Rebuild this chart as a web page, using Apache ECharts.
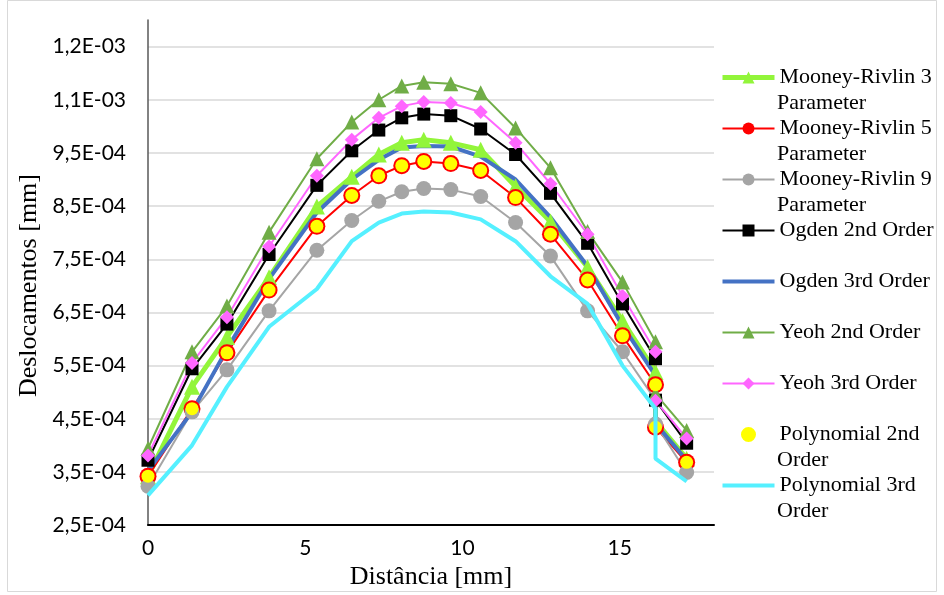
<!DOCTYPE html>
<html><head><meta charset="utf-8">
<script src="https://cdn.jsdelivr.net/npm/echarts@6/dist/echarts.min.js"></script>
<style>html,body{margin:0;padding:0;background:#fff}#c{width:944px;height:595px}</style>
</head><body><div id="c"></div>
<script>
// x positions (mm)
const distance = [0, 1.40, 2.51, 3.85, 5.37, 6.48, 7.34, 8.07, 8.77, 9.63, 10.58, 11.69, 12.80, 13.98, 15.09, 16.14, 16.14, 17.13];
// displacements (mm)
const mooneyRivlin3 = [3.42e-4, 5.10e-4, 6.04e-4, 7.16e-4, 8.49e-4, 9.05e-4, 9.47e-4, 9.69e-4, 9.75e-4, 9.69e-4, 9.56e-4, 8.87e-4, 8.21e-4, 7.35e-4, 6.34e-4, 5.38e-4, 4.45e-4, 3.75e-4];
const mooneyRivlin5 = [3.42e-4, 4.69e-4, 5.74e-4, 6.92e-4, 8.12e-4, 8.70e-4, 9.07e-4, 9.26e-4, 9.34e-4, 9.30e-4, 9.17e-4, 8.66e-4, 7.97e-4, 7.11e-4, 6.06e-4, 5.14e-4, 4.34e-4, 3.68e-4];
const mooneyRivlin9 = [3.23e-4, 4.63e-4, 5.42e-4, 6.53e-4, 7.67e-4, 8.23e-4, 8.59e-4, 8.77e-4, 8.83e-4, 8.81e-4, 8.68e-4, 8.19e-4, 7.56e-4, 6.53e-4, 5.76e-4, 4.85e-4, 4.40e-4, 3.49e-4];
const ogden2 = [3.72e-4, 5.44e-4, 6.28e-4, 7.59e-4, 8.89e-4, 9.54e-4, 9.93e-4, 10.16e-4, 10.23e-4, 10.20e-4, 9.95e-4, 9.47e-4, 8.74e-4, 7.80e-4, 6.66e-4, 5.63e-4, 4.85e-4, 4.04e-4];
const ogden3 = [3.52e-4, 4.63e-4, 5.81e-4, 7.13e-4, 8.38e-4, 9.00e-4, 9.37e-4, 9.60e-4, 9.63e-4, 9.62e-4, 9.43e-4, 9.00e-4, 8.29e-4, 7.37e-4, 6.25e-4, 5.31e-4, 4.41e-4, 3.72e-4];
const yeoh2 = [3.94e-4, 5.76e-4, 6.62e-4, 8.01e-4, 9.39e-4, 10.08e-4, 10.50e-4, 10.76e-4, 10.83e-4, 10.80e-4, 10.63e-4, 9.97e-4, 9.22e-4, 8.02e-4, 7.07e-4, 5.95e-4, 4.97e-4, 4.28e-4];
const yeoh3 = [3.81e-4, 5.55e-4, 6.41e-4, 7.74e-4, 9.07e-4, 9.75e-4, 10.16e-4, 10.38e-4, 10.46e-4, 10.44e-4, 10.27e-4, 9.69e-4, 8.92e-4, 7.97e-4, 6.81e-4, 5.76e-4, 4.84e-4, 4.13e-4];
const polynomial2 = [3.42e-4, 4.69e-4, 5.74e-4, 6.92e-4, 8.12e-4, 8.70e-4, 9.07e-4, 9.26e-4, 9.34e-4, 9.30e-4, 9.17e-4, 8.66e-4, 7.97e-4, 7.11e-4, 6.06e-4, 5.14e-4, 4.34e-4, 3.68e-4];
const polynomial3 = [3.06e-4, 4.00e-4, 5.10e-4, 6.23e-4, 6.94e-4, 7.84e-4, 8.19e-4, 8.36e-4, 8.40e-4, 8.38e-4, 8.25e-4, 7.84e-4, 7.18e-4, 6.66e-4, 5.50e-4, 4.69e-4, 3.75e-4, 3.32e-4];
const yTickLabels = ['2,5E-04','3,5E-04','4,5E-04','5,5E-04','6,5E-04','7,5E-04','8,5E-04','9,5E-04','1,1E-03','1,2E-03'];
const xTickLabels = ['0','5','10','15'];
const seriesNames = ['Mooney-Rivlin 3 Parameter','Mooney-Rivlin 5 Parameter','Mooney-Rivlin 9 Parameter','Ogden 2nd Order','Ogden 3rd Order','Yeoh 2nd Order','Yeoh 3rd Order','Polynomial 2nd Order','Polynomial 3rd Order'];
const legendFirstLine = {'Mooney-Rivlin 3 Parameter':'Mooney-Rivlin 3','Mooney-Rivlin 5 Parameter':'Mooney-Rivlin 5','Mooney-Rivlin 9 Parameter':'Mooney-Rivlin 9','Polynomial 2nd Order':'Polynomial 2nd','Polynomial 3rd Order':'Polynomial 3rd'};
const legendSecondLine = ['Parameter','Parameter','Parameter',null,null,null,null,'Order','Order'];

const pair = arr => distance.map((x, i) => [x, arr[i]]);
const SERIF = 'Liberation Serif';
const chart = echarts.init(document.getElementById('c'), null, {renderer: 'canvas'});

function lineSeries(name, data, color, width, symbol, size, z) {
  return {
    name, type: 'line', data: pair(data), z: z,
    symbol: symbol || 'none', symbolSize: size || 0, showSymbol: !!symbol,
    lineStyle: {color, width},
    itemStyle: {color, borderWidth: 0},
    emphasis: {disabled: true}, animation: false
  };
}

const legendTop = 65, legendStep = 51;
const option = {
  backgroundColor: '#fff',
  animation: false,
  grid: {left: 148, right: 230, top: 20, bottom: 68, containLabel: false},
  xAxis: {
    type: 'value', min: 0, max: 18, interval: 5,
    axisLine: {show: true, onZero: false, lineStyle: {color: '#000', width: 2}},
    axisTick: {show: false},
    splitLine: {show: false},
    axisLabel: {showMaxLabel: false, margin: 13, fontFamily: 'Lato', fontSize: 21, color: '#000',
      formatter: v => { const i = Math.round(v / 5); return xTickLabels[i] !== undefined ? xTickLabels[i] : ''; }},
    name: 'Distância [mm]', nameLocation: 'middle', nameGap: 38,
    nameTextStyle: {fontFamily: SERIF, fontSize: 26, color: '#000'}
  },
  yAxis: {
    type: 'value', min: 2.5e-4, max: 1.2e-3, interval: 5e-5,
    axisLine: {show: true, lineStyle: {color: '#595959', width: 1.5}},
    axisTick: {show: false},
    splitLine: {show: true, lineStyle: {color: ['#d9d9d9', 'rgba(0,0,0,0)'], width: 1.5}},
    axisLabel: {margin: 22, fontFamily: 'Lato', fontSize: 21, color: '#000',
      formatter: v => { const k = Math.round(v / 5e-5); if (k % 2 === 0) return ''; return yTickLabels[(k - 5) / 2] || ''; }},
    name: 'Deslocamentos [mm]', nameLocation: 'middle', nameGap: 102,
    nameTextStyle: {fontFamily: SERIF, fontSize: 26, color: '#000', padding: [0, 26, 0, 0]}
  },
  legend: {
    orient: 'vertical', left: 720, top: legendTop, itemGap: 26, itemWidth: 52, itemHeight: 15,
    padding: 0, selectedMode: false,
    textStyle: {fontFamily: SERIF, fontSize: 22, color: '#000', lineHeight: 25},
    formatter: name => legendFirstLine[name] || name,
    data: [
      {name: seriesNames[0], lineStyle: {width: 5}},
      {name: seriesNames[1]},
      {name: seriesNames[2]},
      {name: seriesNames[3]},
      {name: seriesNames[4], icon: 'path://M0,0H52V4H0Z'},
      {name: seriesNames[5]},
      {name: seriesNames[6]},
      {name: seriesNames[7], icon: 'path://M3,3a4,4 0 1,0 8,0a4,4 0 1,0 -8,0M0,0h0.01v0.01h-0.01zM14,6h0.01v0.01h-0.01z'},
      {name: seriesNames[8], icon: 'path://M0,0H52V4H0Z'}
    ]
  },
  graphic: [
    {type: 'rect', silent: true, z: -10, shape: {x: 7.5, y: 0.5, width: 929, height: 591}, style: {fill: 'none', stroke: '#d9d9d9', lineWidth: 1}}
  ].concat(legendSecondLine.map((t, i) => t ? {
    type: 'text', silent: true, left: 777, top: legendTop + i * legendStep + 26,
    style: {text: t, font: '22px "Liberation Serif"', fill: '#000', lineHeight: 25}
  } : null).filter(Boolean)),
  series: [
    lineSeries(seriesNames[0], mooneyRivlin3, '#92F53A', 5, 'triangle', 16, 2),
    lineSeries(seriesNames[1], mooneyRivlin5, '#FF0000', 2, 'circle', 17, 2),
    lineSeries(seriesNames[2], mooneyRivlin9, '#A5A5A5', 2, 'circle', 15, 2),
    lineSeries(seriesNames[3], ogden2, '#000000', 2, 'rect', 13, 2),
    lineSeries(seriesNames[4], ogden3, '#4472C4', 4, null, 0, 2),
    lineSeries(seriesNames[5], yeoh2, '#70AD47', 2, 'triangle', 15, 2),
    lineSeries(seriesNames[6], yeoh3, '#FF66FF', 2, 'diamond', 14, 2),
    {name: seriesNames[7], type: 'scatter', z: 5, data: pair(polynomial2), symbol: 'circle', symbolSize: 13,
      itemStyle: {color: '#FFFF00', opacity: 1}, emphasis: {disabled: true}, animation: false},
    lineSeries(seriesNames[8], polynomial3, '#55F0FF', 4, null, 0, 6)
  ]
};
chart.setOption(option);
</script></body></html>
